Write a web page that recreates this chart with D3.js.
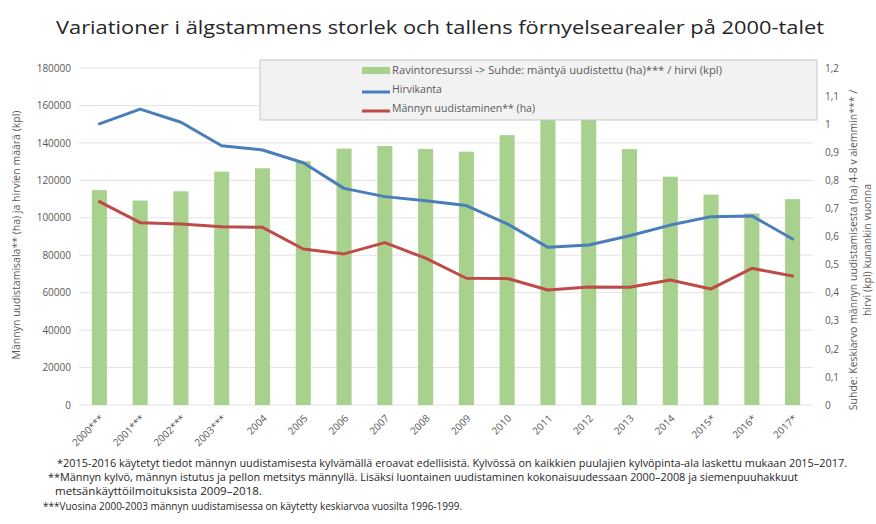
<!doctype html>
<html lang="fi">
<head>
<meta charset="UTF-8">
<title>Variationer i älgstammens storlek</title>
<style>
  body { margin: 0; background: #fff; }
  svg text { font-family: "Open Sans", "DejaVu Sans", sans-serif; }
</style>
</head>
<body>
<svg id="chart" width="876" height="524"></svg>
<script src="https://d3js.org/d3.v7.min.js"></script>
<script>
    // values
    const years = ["2000***", "2001***", "2002***", "2003***", "2004", "2005", "2006", "2007", "2008",
        "2009", "2010", "2011", "2012", "2013", "2014", "2015*", "2016*", "2017*"];
    const ratio = [0.765, 0.728, 0.761, 0.831, 0.843, 0.868, 0.913, 0.922, 0.912,
        0.902, 0.961, 1.04, 1.03, 0.911, 0.813, 0.749, 0.682, 0.733];
    const moose = [150200, 158000, 151000, 138500, 136200, 129400, 115700, 111300, 109100,
        106500, 96800, 84200, 85500, 90400, 96100, 100600, 101000, 88700];
    const renewal = [108600, 97400, 96700, 95200, 94900, 83300, 80700, 86700, 78400,
        67700, 67600, 61400, 63000, 62900, 66800, 62000, 73000, 68900];
    const leftTicks = [0, 20000, 40000, 60000, 80000, 100000, 120000, 140000, 160000, 180000];
    const rightTicks = [0, 0.1, 0.2, 0.3, 0.4, 0.5, 0.6, 0.7, 0.8, 0.9, 1, 1.1, 1.2];
    const legendNames = ["Ravintoresurssi -> Suhde: mäntyä uudistettu (ha)*** / hirvi (kpl)",
        "Hirvikanta", "Männyn uudistaminen** (ha)"];
    const footnotes = [
        "*2015-2016 käytetyt tiedot männyn uudistamisesta kylvämällä eroavat edellisistä. Kylvössä on kaikkien puulajien kylvöpinta-ala laskettu mukaan 2015–2017.",
        "**Männyn kylvö, männyn istutus ja pellon metsitys männyllä. Lisäksi luontainen uudistaminen kokonaisuudessaan 2000–2008 ja siemenpuuhakkuut",
        "metsänkäyttöilmoituksista 2009–2018.",
        "***Vuosina 2000-2003 männyn uudistamisessa on käytetty keskiarvoa vuosilta 1996-1999."
    ];

    const svg = d3.select("#chart");
    const margin = {top: 68, right: 63, bottom: 119, left: 79};
    const width = +svg.attr("width"), height = +svg.attr("height");
    const gray = "#595959";
    const green = "#a9d18e", blue = "#4a7ebb", red = "#be4b48";

    const x = d3.scaleBand()
        .domain(years)
        .range([margin.left, width - margin.right])
        .paddingInner(0.63)
        .paddingOuter(0.315);

    const yL = d3.scaleLinear().domain([0, 180000]).range([height - margin.bottom, margin.top]);
    const yR = d3.scaleLinear().domain([0, 1.2]).range([height - margin.bottom, margin.top]);

    // title
    svg.append("text")
        .attr("x", 440).attr("y", 34)
        .attr("text-anchor", "middle")
        .attr("font-size", 19)
        .attr("fill", "#262626")
        .attr("textLength", 768)
        .attr("lengthAdjust", "spacingAndGlyphs")
        .text("Variationer i älgstammens storlek och tallens förnyelsearealer på 2000-talet");

    // grid
    svg.append("g")
        .selectAll("line")
        .data(leftTicks)
        .enter().append("line")
        .attr("x1", margin.left).attr("x2", width - margin.right)
        .attr("y1", d => yL(d)).attr("y2", d => yL(d))
        .attr("stroke", "#e3e3e3")
        .attr("stroke-width", 1);

    // bars
    svg.append("g")
        .selectAll("rect")
        .data(ratio)
        .enter().append("rect")
        .attr("x", (d, i) => x(years[i]))
        .attr("width", x.bandwidth())
        .attr("y", d => yR(d))
        .attr("height", d => yR(0) - yR(d))
        .attr("fill", green);

    // lines
    const line = (vals) => d3.line()
        .x((d, i) => x(years[i]) + x.bandwidth() / 2)
        .y(d => yL(d))(vals);

    svg.append("path")
        .attr("d", line(moose))
        .attr("fill", "none")
        .attr("stroke", blue)
        .attr("stroke-width", 3)
        .attr("stroke-linejoin", "round")
        .attr("stroke-linecap", "round");

    svg.append("path")
        .attr("d", line(renewal))
        .attr("fill", "none")
        .attr("stroke", red)
        .attr("stroke-width", 3)
        .attr("stroke-linejoin", "round")
        .attr("stroke-linecap", "round");

    // axes
    const axL = svg.append("g")
        .attr("transform", "translate(" + margin.left + ",0)")
        .call(d3.axisLeft(yL).tickValues(leftTicks).tickSize(0).tickPadding(8).tickFormat(d3.format("d")));
    axL.select(".domain").remove();
    axL.selectAll("text").attr("fill", gray).attr("font-size", 10);

    const axR = svg.append("g")
        .attr("transform", "translate(" + (width - margin.right) + ",0)")
        .call(d3.axisRight(yR).tickValues(rightTicks).tickSize(0).tickPadding(12)
            .tickFormat(d => d3.format("~g")(d).replace(".", ",")));
    axR.select(".domain").remove();
    axR.selectAll("text").attr("fill", gray).attr("font-size", 10);

    const axB = svg.append("g")
        .attr("transform", "translate(0," + (height - margin.bottom) + ")")
        .call(d3.axisBottom(x).tickSize(0).tickPadding(0));
    axB.select(".domain").remove();
    axB.selectAll("text")
        .attr("fill", gray)
        .attr("font-size", 10)
        .attr("text-anchor", "end")
        .attr("dy", null)
        .attr("transform", "translate(5,14) rotate(-45)");

    // axis titles
    svg.append("text")
        .attr("transform", "translate(20,235) rotate(-90)")
        .attr("text-anchor", "middle")
        .attr("font-size", 10.5)
        .attr("fill", gray)
        .text("Männyn uudistamisala** (ha) ja hirvien määrä (kpl)");

    svg.append("text")
        .attr("transform", "translate(857,250) rotate(-90)")
        .attr("text-anchor", "middle")
        .attr("font-size", 10.5)
        .attr("fill", gray)
        .text("Suhde: Keskiarvo männyn uudistamisesta (ha) 4-8 v aiemmin*** /");
    svg.append("text")
        .attr("transform", "translate(871,250) rotate(-90)")
        .attr("text-anchor", "middle")
        .attr("font-size", 10.5)
        .attr("fill", gray)
        .text("hirvi (kpl) kunankin vuonna");

    // legend
    const lg = svg.append("g");
    lg.append("rect")
        .attr("x", 260).attr("y", 60).attr("width", 557).attr("height", 60)
        .attr("fill", "#f2f2f2").attr("stroke", "#c8c8c8");
    lg.append("rect")
        .attr("x", 362).attr("y", 67).attr("width", 28).attr("height", 7).attr("fill", green);
    [blue, red].forEach(function (c, i) {
        lg.append("line")
            .attr("x1", 362).attr("x2", 390)
            .attr("y1", 92 + i * 19).attr("y2", 92 + i * 19)
            .attr("stroke", c).attr("stroke-width", 3);
    });
    const legLen = [330, null, null];
    lg.selectAll("text.lab")
        .data(legendNames)
        .enter().append("text")
        .attr("class", "lab")
        .attr("x", 392)
        .attr("y", (d, i) => 74 + i * 19)
        .attr("font-size", 10.5)
        .attr("fill", gray)
        .each(function (d, i) {
            if (legLen[i]) d3.select(this).attr("textLength", legLen[i]).attr("lengthAdjust", "spacingAndGlyphs");
        })
        .text(d => d);

    // footnotes
    const fx = [57, 48, 55, 43];
    const fy = [467, 481, 495, 510];
    const fl = [790, 750, 207, 419];
    svg.append("g")
        .selectAll("text")
        .data(footnotes)
        .enter().append("text")
        .attr("x", (d, i) => fx[i])
        .attr("y", (d, i) => fy[i])
        .attr("font-size", 10)
        .attr("fill", "#262626")
        .attr("textLength", (d, i) => fl[i])
        .attr("lengthAdjust", "spacingAndGlyphs")
        .text(d => d);
</script>
</body>
</html>
